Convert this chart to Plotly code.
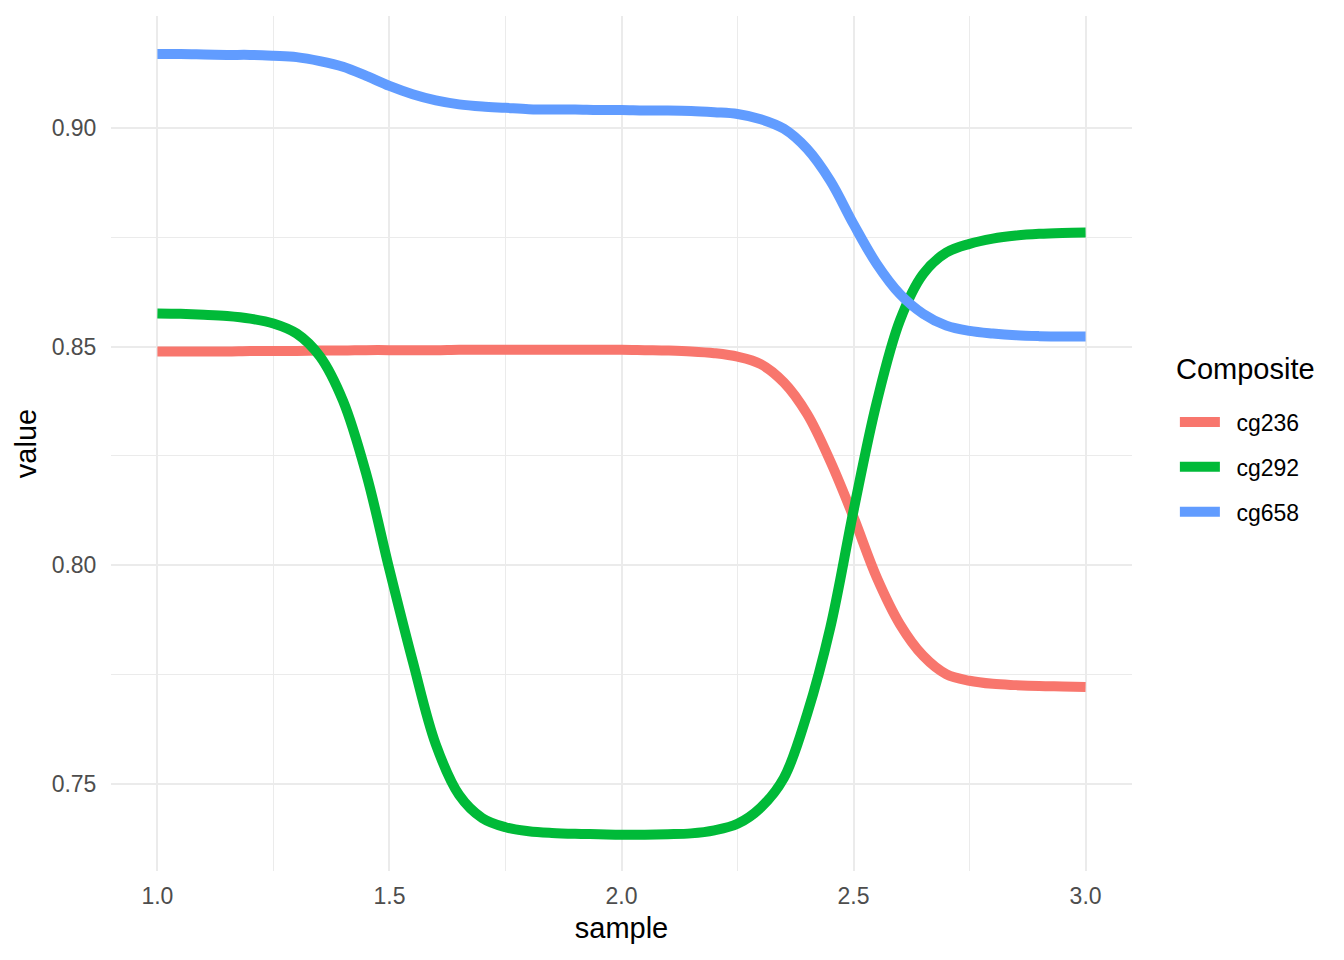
import plotly.graph_objects as go

sample = [1.00, 1.05, 1.10, 1.15, 1.20, 1.25, 1.30, 1.35, 1.40, 1.45,
          1.50, 1.55, 1.60, 1.65, 1.70, 1.75, 1.80, 1.85, 1.90, 1.95,
          2.00, 2.05, 2.10, 2.15, 2.20, 2.25, 2.30, 2.35, 2.40, 2.45,
          2.50, 2.55, 2.60, 2.65, 2.70, 2.75, 2.80, 2.85, 2.90, 2.95, 3.00]

cg236 = [0.8489, 0.8489, 0.8489, 0.8489, 0.8490, 0.8490, 0.8490, 0.8491, 0.8491, 0.8492,
         0.8492, 0.8492, 0.8492, 0.8493, 0.8493, 0.8493, 0.8493, 0.8493, 0.8493, 0.8493,
         0.8493, 0.8492, 0.8491, 0.8489, 0.8485, 0.8477, 0.8460, 0.8418, 0.8346, 0.8238,
         0.8110, 0.7972, 0.7865, 0.7793, 0.7751, 0.7736, 0.7729, 0.7726, 0.7724, 0.7723, 0.7722]

cg292 = [0.8576, 0.8575, 0.8573, 0.8570, 0.8564, 0.8553, 0.8530, 0.8478, 0.8376, 0.8209,
         0.7990, 0.7781, 0.7590, 0.7475, 0.7422, 0.7401, 0.7392, 0.7388, 0.7386, 0.7385,
         0.7384, 0.7384, 0.7385, 0.7387, 0.7394, 0.7409, 0.7446, 0.7514, 0.7660, 0.7858,
         0.8125, 0.8373, 0.8560, 0.8666, 0.8715, 0.8735, 0.8747, 0.8754, 0.8758, 0.8760, 0.8761]

cg658 = [0.9169, 0.9169, 0.9168, 0.9167, 0.9167, 0.9165, 0.9162, 0.9153, 0.9140, 0.9119,
         0.9096, 0.9077, 0.9063, 0.9054, 0.9049, 0.9046, 0.9043, 0.9042, 0.9042, 0.9041,
         0.9041, 0.9040, 0.9040, 0.9039, 0.9036, 0.9032, 0.9020, 0.8998, 0.8952, 0.8879,
         0.8780, 0.8689, 0.8620, 0.8575, 0.8548, 0.8536, 0.8530, 0.8526, 0.8524, 0.8523, 0.8523]

series_names = ["cg236", "cg292", "cg658"]
series_values = [cg236, cg292, cg658]
series_colors = ["#F8766D", "#00BA38", "#619CFF"]

x_ticks = [1.0, 1.5, 2.0, 2.5, 3.0]
x_tick_labels = ["1.0", "1.5", "2.0", "2.5", "3.0"]
x_minor = [1.25, 1.75, 2.25, 2.75]
y_ticks = [0.75, 0.80, 0.85, 0.90]
y_tick_labels = ["0.75", "0.80", "0.85", "0.90"]
y_minor = [0.775, 0.825, 0.875]

FONT = "Liberation Sans, Arial, sans-serif"

fig = go.Figure()
for name, vals, col in zip(series_names, series_values, series_colors):
    fig.add_trace(go.Scatter(
        x=sample, y=vals, name="\u2002" + name, mode="lines",
        line=dict(color=col, width=10, shape="spline", smoothing=1.0),
        legendgroup=name,
    ))

grid = "#EBEBEB"
fig.update_layout(
    width=1336, height=952,
    paper_bgcolor="white", plot_bgcolor="white",
    margin=dict(l=103, r=212, t=8, b=89),
    font=dict(family=FONT, color="black"),
    xaxis=dict(
        range=[0.9, 3.1], tickvals=x_ticks, ticktext=x_tick_labels,
        showgrid=True, gridcolor=grid, gridwidth=2,
        minor=dict(tickvals=x_minor, showgrid=True, gridcolor=grid, gridwidth=1, ticks=""),
        zeroline=False, showline=False,
        ticks="outside", ticklen=4, tickcolor="rgba(0,0,0,0)",
        tickfont=dict(size=23, color="#4D4D4D", family=FONT),
        title=dict(text="sample", font=dict(size=29, color="black", family=FONT), standoff=10),
    ),
    yaxis=dict(
        range=[0.7301, 0.9256], tickvals=y_ticks, ticktext=y_tick_labels,
        showgrid=True, gridcolor=grid, gridwidth=2,
        minor=dict(tickvals=y_minor, showgrid=True, gridcolor=grid, gridwidth=1, ticks=""),
        zeroline=False, showline=False,
        ticks="outside", ticklen=9, tickcolor="rgba(0,0,0,0)",
        tickfont=dict(size=23, color="#4D4D4D", family=FONT),
        title=dict(text="value", font=dict(size=29, color="black", family=FONT), standoff=6),
    ),
    legend=dict(
        x=1.042, y=0.4725, xanchor="left", yanchor="middle",
        font=dict(size=23, color="black", family=FONT),
        itemwidth=40, tracegroupgap=12,
        bgcolor="rgba(0,0,0,0)",
    ),
    showlegend=True,
    annotations=[dict(
        text="Composite", xref="paper", yref="paper",
        x=1.041, y=0.587, xanchor="left", yanchor="middle",
        showarrow=False, font=dict(size=29, color="black", family=FONT),
    )],
)

fig.write_html("out.html")
